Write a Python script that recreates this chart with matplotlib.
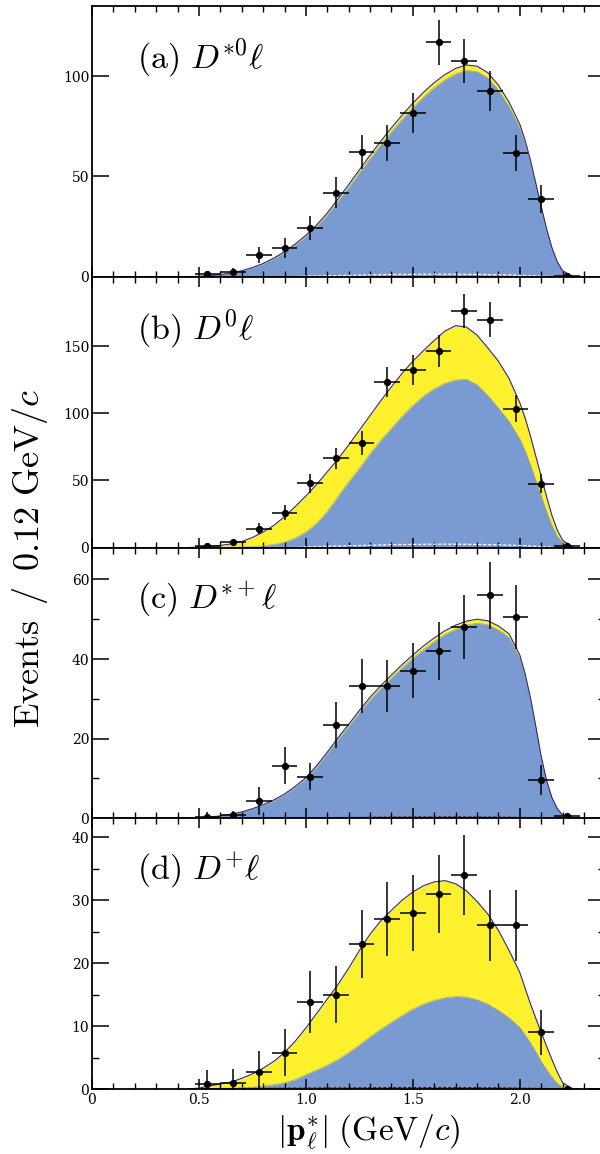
import numpy as np
import matplotlib
matplotlib.use("Agg")
import matplotlib.pyplot as plt
from matplotlib.ticker import MultipleLocator

plt.rcParams["mathtext.fontset"] = "cm"

# lepton momentum bins (GeV/c), bin width 0.12
bin_centers = [0.54, 0.66, 0.78, 0.90, 1.02, 1.14, 1.26, 1.38, 1.50, 1.62, 1.74, 1.86, 1.98, 2.10, 2.22]

# measured yields and errors
evt_a = [1.5, 2.5, 11, 14.5, 24.5, 42, 62, 66.5, 81.5, 117, 107.5, 92.5, 61.5, 39, 0.5]
err_a = [1.5, 2, 4, 5, 6, 7.5, 8.5, 9, 10, 11.2, 11, 10, 9, 7, 0.5]
evt_b = [1.5, 4, 14, 26, 48, 66.5, 78, 123.5, 132.5, 146.5, 176.5, 170, 103.5, 47.5, 1.5]
err_b = [1.5, 2.5, 4, 5.5, 7, 8, 9, 11, 11.5, 12, 13, 13, 10, 7, 1.5]
evt_c = [0.4, 0.7, 4.4, 13.2, 10.4, 23.4, 33.2, 33.2, 37.1, 42.1, 48, 56, 50.5, 9.6, 0.6]
err_c = [1.2, 1.2, 3.5, 4.6, 3.4, 5.7, 6.7, 6.5, 6.9, 7.3, 8, 8.4, 8, 3.8, 0.8]
evt_d = [0.8, 1, 2.7, 5.8, 13.8, 15, 23, 27, 28, 31, 34, 26, 26, 9, 0]
err_d = [2.2, 2.2, 3.3, 3.7, 4.9, 4.5, 5.4, 5.8, 6.0, 6.2, 6.4, 5.6, 5.6, 3.6, 0.3]

# fit curves, sampled every 0.05 GeV/c (0.025 on the falling edge)
p_grid = [0.45, 0.50, 0.55, 0.60, 0.65, 0.70, 0.75, 0.80, 0.85, 0.90, 0.95, 1.00, 1.05,
          1.10, 1.15, 1.20, 1.25, 1.30, 1.35, 1.40, 1.45, 1.50, 1.55, 1.60, 1.65, 1.70,
          1.75, 1.80, 1.85, 1.90, 1.95, 2.00, 2.025, 2.05, 2.075, 2.10, 2.125, 2.15,
          2.175, 2.20, 2.25]

tot_a = [0, 0.2, 0.6, 1.1, 1.8, 3.0, 4.6, 6.6, 9.3, 12.5, 16.3, 20.7, 25.8, 31.8, 38.8,
         46.0, 53.3, 60.6, 67.6, 74.3, 80.6, 86.6, 92.0, 96.8, 100.8, 103.9, 105.6, 105.0,
         101.8, 95.5, 87.0, 76.0, 68.0, 58.0, 46.5, 35.0, 24.0, 14.5, 7.5, 3.0, 0]
sig_a = [0, 0.2, 0.58, 1.07, 1.75, 2.9, 4.45, 6.4, 9.0, 12.1, 15.8, 20.1, 25.1, 30.9, 37.7,
         44.8, 51.9, 59.0, 65.8, 72.3, 78.5, 84.3, 89.6, 94.3, 98.2, 101.2, 102.9, 102.3,
         99.2, 93.1, 84.8, 74.1, 66.3, 56.6, 45.3, 34.2, 23.4, 14.1, 7.3, 2.9, 0]
bkg_a = [0, 0, 0, 0, 0, 0, 0, 0, 0, 0, 0, 0.3, 0.4, 0.5, 0.6, 0.7, 0.8, 0.9, 1.0, 1.1, 1.2,
         1.2, 1.3, 1.3, 1.3, 1.3, 1.2, 1.2, 1.1, 1.0, 0.9, 0.7, 0.6, 0.5, 0.4, 0.3, 0.2, 0.1,
         0.05, 0, 0]

tot_b = [0, 0.3, 0.8, 1.5, 2.7, 4.5, 7.5, 11.5, 16.5, 23, 30.5, 38.5, 47, 56.5, 66, 76.5,
         87.5, 98.5, 109.5, 120, 130, 139, 147, 154.5, 161.5, 165.5, 164.5, 158.5, 149, 139,
         126, 108, 96.5, 83, 68, 53, 38, 24, 13, 5.5, 0]
sig_b = [0, 0, 0.05, 0.1, 0.2, 0.4, 0.7, 1.3, 2.3, 4, 7, 11.5, 18, 27, 38, 49, 59, 70, 80,
         89, 98, 106, 113, 118.5, 122.5, 125, 125.5, 121.5, 113.5, 104, 94, 81, 72, 61.5, 50,
         38.5, 27, 16.5, 8.5, 3.5, 0]
bkg_b = [0, 0, 0, 0, 0, 0, 0, 0, 0, 0, 0, 0.5, 0.7, 0.9, 1.1, 1.3, 1.5, 1.7, 1.9, 2.1, 2.2,
         2.3, 2.4, 2.5, 2.5, 2.5, 2.4, 2.3, 2.2, 2.0, 1.8, 1.5, 1.3, 1.1, 0.9, 0.7, 0.5, 0.3,
         0.15, 0, 0]

tot_c = [0, 0.1, 0.3, 0.6, 1.0, 1.6, 2.4, 3.4, 4.6, 6.1, 8.0, 10.2, 13.2, 16.6, 20.2, 23.6,
         27.1, 30.4, 33.3, 36.0, 38.6, 41.0, 43.3, 45.3, 47.1, 48.5, 49.5, 50.0, 49.6, 48.3,
         46.3, 41.0, 36.2, 30.2, 23.0, 15.5, 9.5, 5.2, 2.4, 0.8, 0]
sig_c = [0, 0.1, 0.29, 0.59, 0.98, 1.57, 2.35, 3.33, 4.5, 5.98, 7.84, 10.0, 12.9, 16.3, 19.8,
         23.1, 26.6, 29.8, 32.6, 35.3, 37.8, 40.2, 42.4, 44.4, 46.2, 47.5, 48.5, 49.0, 48.6,
         47.3, 45.4, 40.2, 35.5, 29.6, 22.5, 15.2, 9.3, 5.1, 2.35, 0.78, 0]
bkg_c = [0, 0, 0, 0, 0, 0, 0, 0, 0, 0, 0, 0.1, 0.12, 0.15, 0.18, 0.2, 0.22, 0.25, 0.28, 0.3,
         0.32, 0.34, 0.35, 0.36, 0.36, 0.36, 0.35, 0.34, 0.32, 0.3, 0.27, 0.22, 0.19, 0.16,
         0.13, 0.1, 0.07, 0.04, 0.02, 0, 0]

tot_d = [0, 0.15, 0.5, 0.8, 1.1, 1.7, 2.4, 3.3, 4.4, 5.8, 7.6, 9.7, 12.0, 14.3, 16.6, 19.2,
         22.0, 24.6, 26.7, 28.4, 30.0, 31.3, 32.3, 32.9, 33.1, 32.6, 31.5, 29.8, 27.8, 25.2,
         22.0, 18.5, 16.0, 13.5, 11.2, 9.0, 6.8, 4.7, 2.7, 1.0, 0]
sig_d = [0, 0, 0.02, 0.05, 0.1, 0.2, 0.3, 0.5, 0.7, 1.0, 1.5, 2.3, 3.0, 3.8, 4.7, 5.8, 7.0,
         8.3, 9.5, 10.6, 11.7, 12.7, 13.5, 14.1, 14.5, 14.7, 14.6, 14.2, 13.5, 12.5, 11.3,
         9.8, 8.6, 7.3, 5.9, 4.4, 3.1, 1.9, 0.9, 0.3, 0]
bkg_d = [0, 0.05, 0.06, 0.07, 0.08, 0.09, 0.10, 0.11, 0.12, 0.13, 0.14, 0.15, 0.16, 0.17,
         0.18, 0.19, 0.20, 0.21, 0.22, 0.22, 0.23, 0.23, 0.23, 0.23, 0.23, 0.22, 0.22, 0.21,
         0.20, 0.19, 0.17, 0.15, 0.13, 0.12, 0.10, 0.09, 0.07, 0.06, 0.04, 0.03, 0]

panels = [
    (r"$\mathrm{(a)}\ D^{*0}\ell$", tot_a, sig_a, bkg_a, evt_a, err_a, 135, [0, 50, 100], None, "white"),
    (r"$\mathrm{(b)}\ D^{0}\ell$", tot_b, sig_b, bkg_b, evt_b, err_b, 202, [0, 50, 100, 150], None, "white"),
    (r"$\mathrm{(c)}\ D^{*+}\ell$", tot_c, sig_c, bkg_c, evt_c, err_c, 68, [0, 20, 40, 60], 10, "#333333"),
    (r"$\mathrm{(d)}\ D^{+}\ell$", tot_d, sig_d, bkg_d, evt_d, err_d, 43, [0, 10, 20, 30, 40], 5, "#222222"),
]

yellow = "#fdf02c"
blue = "#7a9bd2"

fig, axes = plt.subplots(4, 1, figsize=(6, 11.54), dpi=100, sharex=True)
fig.subplots_adjust(left=0.1533, right=1.009, bottom=0.0563, top=0.9948, hspace=0)

for ax, (label, tot, sig, bkg, evt, err, ymax, yt, ymin, bcol) in zip(axes, panels):
    ax.fill_between(p_grid, 0, tot, color=yellow, lw=0)
    ax.fill_between(p_grid, 0, sig, color=blue, lw=0)
    ax.plot(p_grid, sig, color="#a4a883", lw=0.5)
    ax.plot(p_grid, tot, color="#2c2890", lw=0.8)
    ax.plot(p_grid, bkg, color=bcol, lw=0.9, ls=(0, (2.5, 1.5)))
    ax.errorbar(bin_centers, evt, xerr=0.06, yerr=err, fmt="o", ms=4.2, color="black",
                elinewidth=1.1, capsize=0)

    ax.set_xlim(0, 2.4)
    ax.set_ylim(0, ymax)
    ax.set_yticks(yt)
    ax.set_yticklabels([str(v) for v in yt], family="DejaVu Serif", fontsize=10)
    if ymin:
        ax.yaxis.set_minor_locator(MultipleLocator(ymin))
    ax.xaxis.set_minor_locator(MultipleLocator(0.1))
    ax.tick_params(which="both", direction="in", top=True, right=True)
    ax.tick_params(axis="y", which="major", length=12, width=1.1, pad=2)
    ax.tick_params(axis="y", which="minor", length=5, width=1)
    ax.tick_params(axis="x", which="major", length=7, width=1.1, pad=3)
    ax.tick_params(axis="x", which="minor", length=4, width=1)
    for sp in ax.spines.values():
        sp.set_linewidth(1.3)
    ax.text(0.088, 0.81, label, transform=ax.transAxes, fontsize=24.5, va="center", ha="left")

axes[-1].set_xticks([0, 0.5, 1.0, 1.5, 2.0])
axes[-1].set_xticklabels(["0", "0.5", "1.0", "1.5", "2.0"], family="DejaVu Serif", fontsize=10)

fig.text(0.05, 0.5165, r"$\mathrm{Events\ \,/\ \,0.12\ GeV}/c$", rotation=90,
         fontsize=26, ha="center", va="center")
fig.text(0.615, 0.019, r"$|\mathbf{p}^{*}_{\ell}|\ (\mathrm{GeV}/c)$", fontsize=24,
         ha="center", va="center")

fig.savefig("out.png", dpi=100)
